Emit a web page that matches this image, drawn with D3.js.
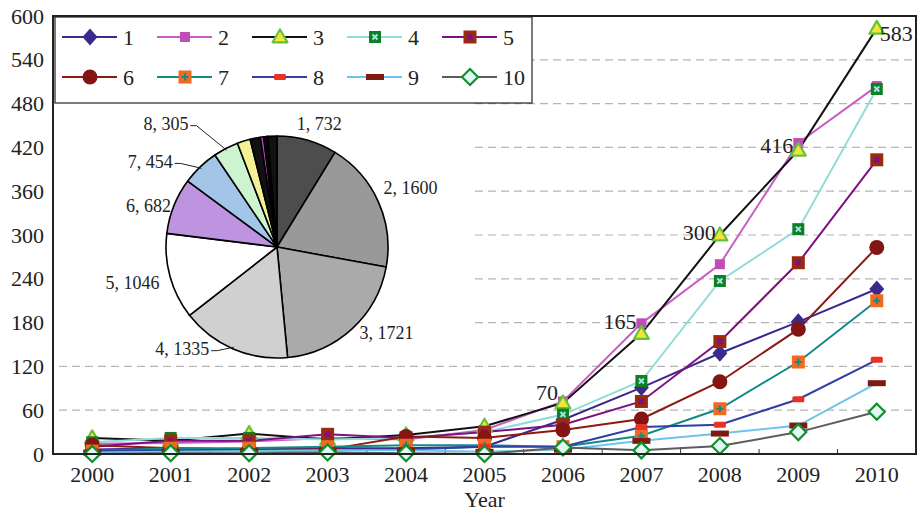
<!DOCTYPE html>
<html><head><meta charset="utf-8">
<script src="https://cdn.jsdelivr.net/npm/d3@7"></script>
<style>
html,body{margin:0;padding:0;background:#fff;}
svg{display:block;font-family:"Liberation Serif","Times New Roman",serif;}
</style></head>
<body><svg id="c" width="920" height="514"></svg>
<script>
// ---------- data ----------
const years = ["2000","2001","2002","2003","2004","2005","2006","2007","2008","2009","2010"];
const seriesNames = ["1","2","3","4","5","6","7","8","9","10"];
const s1  = [6, 8, 6, 8, 8, 10, 47, 91, 138, 181, 226];
const s2  = [14, 15, 17, 22, 20, 33, 72, 179, 260, 426, 504];
const s3  = [22, 18, 28, 20, 26, 38, 70, 165, 300, 416, 583];
const s4  = [16, 22, 22, 20, 22, 30, 54, 100, 237, 308, 500];
const s5  = [10, 18, 18, 27, 22, 30, 40, 72, 154, 262, 403];
const s6  = [12, 8, 6, 6, 24, 22, 33, 48, 99, 171, 283];
const s7  = [4, 8, 8, 10, 12, 12, 10, 25, 62, 126, 210];
const s8  = [4, 5, 4, 5, 6, 10, 10, 37, 40, 75, 129];
const s9  = [2, 3, 4, 5, 5, 3, 6, 18, 28, 39, 97];
const s10 = [0, 1, 1, 2, 1, 0, 9, 5, 11, 30, 58];
const yTicks = [0, 60, 120, 180, 240, 300, 360, 420, 480, 540, 600];
const annotatedYears = ["2006","2007","2008","2009","2010"]; // labels on series 3
const pieNames  = ["1","2","3","4","5","6","7","8","9","10","11","12","13","14"];
const pieValues = [732, 1600, 1721, 1335, 1046, 682, 454, 305, 160, 125, 40, 30, 20, 110];
const pieLabelled = 8;

// ---------- styles ----------
const allSeries = [s1,s2,s3,s4,s5,s6,s7,s8,s9,s10];
const lineColors = ["#3b2a8c","#c55fc4","#111111","#8fdcd8","#7e0f84","#8c1a12","#138a86","#2f3fa3","#6cc4ec","#5c5c5c"];
const pieColors = ["#4d4d4d","#999999","#aaaaaa","#d0d0d0","#ffffff","#be94e0","#a3c5e8","#cdf3cf","#f5f096","#111111","#c03cc0","#111111","#5fc8c8","#111111"];

const svg = d3.select("#c");
const L = 53, R = 916, T = 16, B = 454;
const x = d3.scaleBand().domain(years).range([L, R]).padding(0);
const cx = d => x(d) + x.bandwidth() / 2;
const y = d3.scaleLinear().domain([0, 600]).range([B, T]);

// gridlines
svg.append("g").selectAll("line").data(yTicks.filter(v => v > 0 && v < 600)).join("line")
  .attr("x1", L + 6).attr("x2", R).attr("y1", d => y(d)).attr("y2", d => y(d))
  .attr("stroke", "#b5b5b5").attr("stroke-width", 1.2).attr("stroke-dasharray", "8,5");

// inset background for pie
svg.append("rect").attr("x", L + 1).attr("y", 100).attr("width", 418).attr("height", 262).attr("fill", "#fff");

// ---------- pie ----------
const pcx = 277, pcy = 247, pr = 111;
const pie = d3.pie().sort(null).value(d => d)(pieValues);
const arc = d3.arc().innerRadius(0).outerRadius(pr);
const pg = svg.append("g").attr("transform", `translate(${pcx},${pcy})`);
pg.selectAll("path").data(pie).join("path").attr("d", arc)
  .attr("fill", (d, i) => pieColors[i]).attr("stroke", "#000").attr("stroke-width", 1.6).attr("stroke-linejoin", "round");
// label layout: angle/radius for each labelled slice
const labelLayout = [
  {a: 19, r: 130}, {a: 66, r: 146}, {a: 128, r: 139}, {a: 223, r: 139, lead: true},
  {a: 256, r: 149}, {a: 288, r: 135}, {a: 304, r: 153, lead: true}, {a: 318, r: 166, lead: true}
];
pie.slice(0, pieLabelled).forEach((d, i) => {
  const lay = labelLayout[i];
  const ang = lay.a * Math.PI / 180;
  const lx = Math.sin(ang) * lay.r, ly = -Math.cos(ang) * lay.r;
  const t = pg.append("text").attr("x", lx).attr("y", ly).attr("dy", "0.35em")
    .attr("text-anchor", "middle").attr("font-size", 18).attr("fill", "#222")
    .text(pieNames[i] + ", " + pieValues[i]);
  if (lay.lead) {
    const bb = t.node().getBBox();
    const mid = (d.startAngle + d.endAngle) / 2;
    const ex = Math.sin(mid) * (pr - 2), ey = -Math.cos(mid) * (pr - 2);
    const sx = bb.x + bb.width + 2, sy = ly + 2;
    pg.append("path").attr("d", `M${sx},${sy} L${sx + 6},${sy} L${ex},${ey}`)
      .attr("fill", "none").attr("stroke", "#222").attr("stroke-width", 1);
  }
});

// ---------- axes ----------
const yAxis = svg.append("g").attr("transform", `translate(${L},0)`)
  .call(d3.axisLeft(y).tickValues(yTicks).tickSize(0).tickPadding(9));
yAxis.select(".domain").remove();
yAxis.selectAll("text").attr("font-size", 22).attr("font-family", "Liberation Serif").attr("fill", "#222");

const xAxis = svg.append("g").attr("transform", `translate(0,${B})`)
  .call(d3.axisBottom(x).tickSize(0).tickPadding(12));
xAxis.select(".domain").remove();
xAxis.selectAll("text").attr("font-size", 22).attr("font-family", "Liberation Serif").attr("fill", "#222");

// minor inside ticks on x at band boundaries
svg.append("g").selectAll("line").data(years.slice(1)).join("line")
  .attr("x1", d => x(d)).attr("x2", d => x(d)).attr("y1", B).attr("y2", B - 5)
  .attr("stroke", "#333").attr("stroke-width", 1);

svg.append("text").attr("x", (L + R) / 2).attr("y", 507).attr("text-anchor", "middle")
  .attr("font-size", 22).attr("fill", "#222").text("Year");

// ---------- lines ----------
const line = d3.line().x((d, i) => cx(years[i])).y(d => y(d));
const lg = svg.append("g");
allSeries.forEach((s, k) => {
  lg.append("path").datum(s).attr("d", line).attr("fill", "none")
    .attr("stroke", lineColors[k]).attr("stroke-width", 2);
});

// ---------- markers ----------
function marker(g, k, px, py) {
  switch (k) {
    case 0: g.append("path").attr("d", `M${px},${py-8.5}L${px+7.5},${py}L${px},${py+8.5}L${px-7.5},${py}Z`)
      .attr("fill", "#3b2a8c"); break;
    case 1: g.append("rect").attr("x", px - 5).attr("y", py - 5).attr("width", 10).attr("height", 10).attr("fill", "#c24db9"); break;
    case 2: g.append("path").attr("d", d3.symbol(d3.symbolTriangle, 95)()).attr("transform", `translate(${px},${py + 1})`)
      .attr("fill", "#f1e43a").attr("stroke", "#66c23c").attr("stroke-width", 2.2).attr("stroke-linejoin", "round"); break;
    case 3: g.append("rect").attr("x", px - 6).attr("y", py - 6).attr("width", 12).attr("height", 12).attr("fill", "#0f7f25");
      g.append("path").attr("d", `M${px-2.5},${py-2.5}L${px+2.5},${py+2.5}M${px+2.5},${py-2.5}L${px-2.5},${py+2.5}`).attr("stroke", "#9ee6e0").attr("stroke-width", 2); break;
    case 4: g.append("rect").attr("x", px - 6.5).attr("y", py - 6.5).attr("width", 13).attr("height", 13).attr("fill", "#9a2b0e");
      g.append("path").attr("d", `M${px-2.5},${py-2.5}L${px+2.5},${py+2.5}M${px+2.5},${py-2.5}L${px-2.5},${py+2.5}`).attr("stroke", "#7e0f84").attr("stroke-width", 2.5); break;
    case 5: g.append("circle").attr("cx", px).attr("cy", py).attr("r", 7.5).attr("fill", "#831512"); break;
    case 6: g.append("rect").attr("x", px - 6.5).attr("y", py - 6.5).attr("width", 13).attr("height", 13).attr("fill", "#f26a22");
      g.append("path").attr("d", `M${px-3.5},${py}L${px+3.5},${py}M${px},${py-3.5}L${px},${py+3.5}`).attr("stroke", "#138a86").attr("stroke-width", 2); break;
    case 7: g.append("rect").attr("x", px - 6).attr("y", py - 3).attr("width", 12).attr("height", 6).attr("rx", 1.5).attr("fill", "#e63324"); break;
    case 8: g.append("rect").attr("x", px - 9).attr("y", py - 3).attr("width", 18).attr("height", 6).attr("fill", "#7f1a12"); break;
    case 9: g.append("path").attr("d", `M${px},${py-8}L${px+8},${py}L${px},${py+8}L${px-8},${py}Z`)
      .attr("fill", "#e2f7f6").attr("stroke", "#10902a").attr("stroke-width", 2.2); break;
  }
}
const mg = svg.append("g");
allSeries.forEach((s, k) => {
  s.forEach((v, i) => marker(mg, k, cx(years[i]), y(v)));
});

// annotations on series 3
const annLayout = {"2006": {dx: -5, dy: -11, anchor: "end"}, "2007": {dx: -5, dy: -12, anchor: "end"},
  "2008": {dx: -4, dy: -3, anchor: "end"}, "2009": {dx: -5, dy: -5, anchor: "end"}, "2010": {dx: 3, dy: 5, anchor: "start"}};
annotatedYears.forEach(yr => {
  const i = years.indexOf(yr), a = annLayout[yr];
  svg.append("text").attr("x", cx(yr) + a.dx).attr("y", y(s3[i]) + a.dy).attr("dy", "0.35em")
    .attr("text-anchor", a.anchor).attr("font-size", 22).attr("fill", "#222").text(s3[i]);
});

// ---------- legend ----------
const leg = svg.append("g");
leg.append("rect").attr("x", 55).attr("y", 17).attr("width", 477).attr("height", 86)
  .attr("fill", "#fff").attr("stroke", "#222").attr("stroke-width", 1.2);
seriesNames.forEach((n, k) => {
  const col = k % 5, row = Math.floor(k / 5);
  const x0 = 62 + col * 95, yy = 37 + row * 40;
  leg.append("line").attr("x1", x0).attr("x2", x0 + 55).attr("y1", yy).attr("y2", yy)
    .attr("stroke", lineColors[k]).attr("stroke-width", 2);
  marker(leg, k, x0 + 28, yy);
  leg.append("text").attr("x", x0 + 61).attr("y", yy).attr("dy", "0.35em")
    .attr("font-size", 22).attr("fill", "#222").text(n);
});

// ---------- frame ----------
svg.append("rect").attr("x", L).attr("y", T).attr("width", R - L).attr("height", B - T)
  .attr("fill", "none").attr("stroke", "#222").attr("stroke-width", 2);
</script></body></html>
